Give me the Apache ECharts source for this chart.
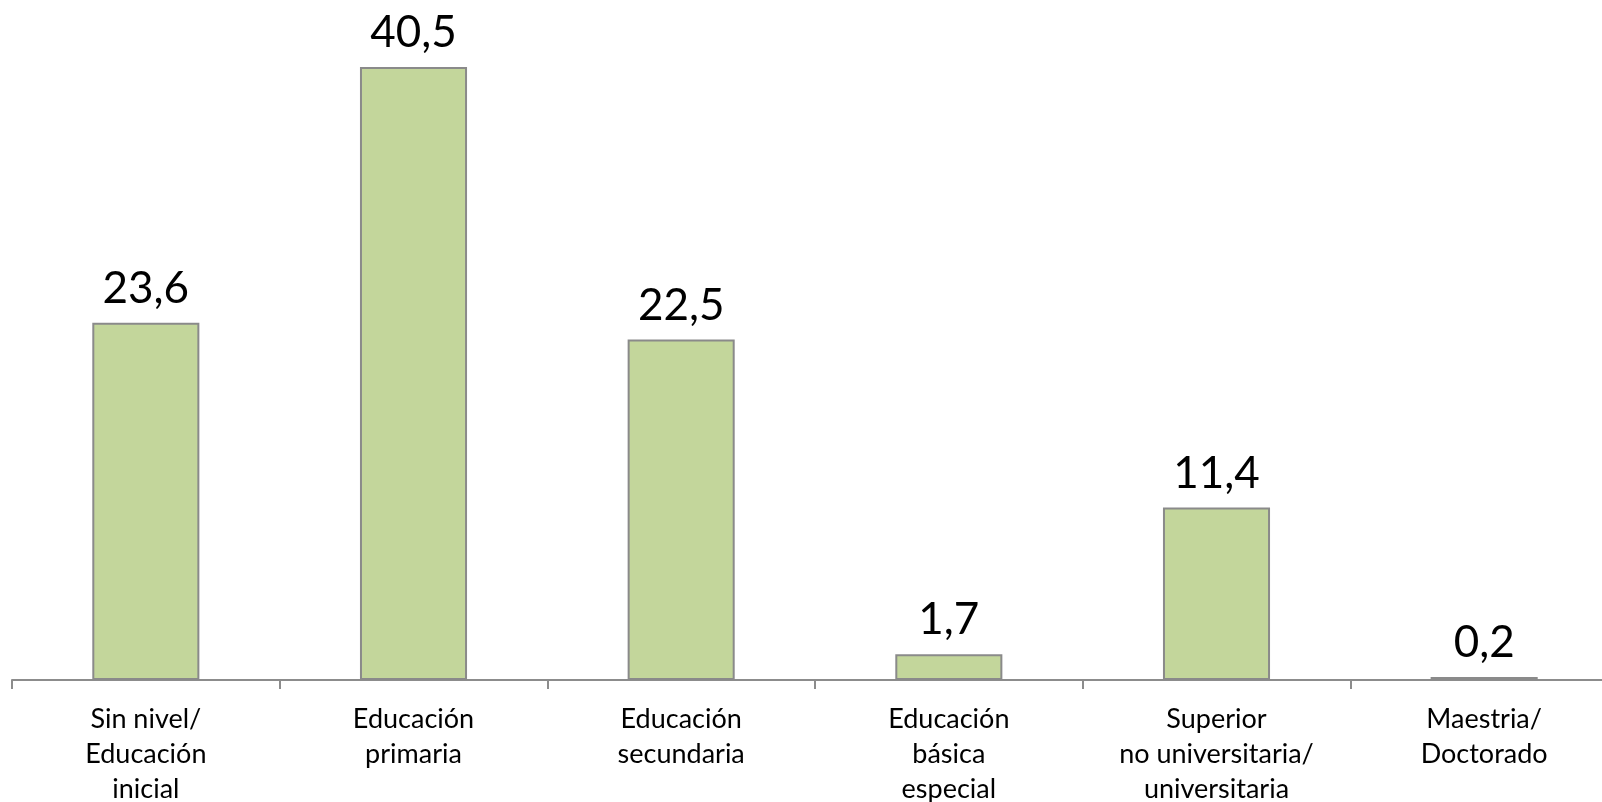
<!DOCTYPE html>
<html>
<head>
<meta charset="utf-8">
<style>
html,body{margin:0;padding:0;background:#fff;}
#chart{width:1602px;height:802px;}
</style>
<script src="https://cdn.jsdelivr.net/npm/echarts@6/dist/echarts.min.js"></script>
</head>
<body>
<div id="chart"></div>
<script>
const categories = [
  'Sin nivel/\nEducación\ninicial',
  'Educación\nprimaria',
  'Educación\nsecundaria',
  'Educación\nbásica\nespecial',
  'Superior\nno universitaria/\nuniversitaria',
  'Maestria/\nDoctorado'
];
const values = [23.6, 40.5, 22.5, 1.7, 11.4, 0.2];

const chart = echarts.init(document.getElementById('chart'));
chart.setOption({
  animation: false,
  backgroundColor: '#ffffff',
  grid: { left: 12, right: -16, top: 14, bottom: 122, containLabel: false, outerBoundsMode: 'none' },
  xAxis: {
    type: 'category',
    data: categories,
    axisLine: { lineStyle: { color: '#8c8c8c', width: 2 } },
    axisTick: { show: true, length: 9, lineStyle: { color: '#8c8c8c', width: 2 } },
    axisLabel: {
      interval: 0,
      margin: 22,
      color: '#000000',
      fontFamily: 'Lato',
      fontSize: 27,
      lineHeight: 35
    }
  },
  yAxis: {
    type: 'value',
    min: 0,
    max: 44,
    show: false,
    splitLine: { show: false }
  },
  series: [{
    type: 'bar',
    data: values,
    barWidth: '40%',
    itemStyle: { color: '#C3D69B', borderColor: '#8a8a8a', borderWidth: 2 },
    label: {
      show: true,
      position: 'top',
      distance: 12,
      color: '#000000',
      fontFamily: 'Lato',
      fontSize: 44,
      formatter: p => String(p.value).replace('.', ',')
    }
  }]
});
</script>
</body>
</html>
